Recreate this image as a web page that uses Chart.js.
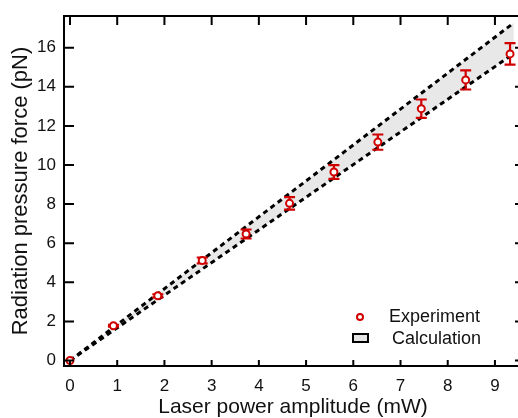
<!DOCTYPE html>
<html>
<head>
<meta charset="utf-8">
<script src="https://cdn.jsdelivr.net/npm/chart.js@4.4.1/dist/chart.umd.min.js"></script>
<style>
    html, body { margin: 0; padding: 0; background: #fff; overflow: hidden; }
    #forceChart { display: block; }
</style>
</head>
<body>
<canvas id="forceChart" width="528" height="418"></canvas>
<script>
// Measured points (laser power in mW, force in pN, error half-width in pN)
const expPower = [0, 0.92, 1.86, 2.80, 3.73, 4.65, 5.59, 6.52, 7.44, 8.38, 9.32];
const expForce = [0, 1.78, 3.31, 5.12, 6.47, 8.04, 9.64, 11.17, 12.88, 14.35, 15.68];
const expError = [0, 0.05, 0.08, 0.15, 0.23, 0.32, 0.35, 0.39, 0.47, 0.49, 0.55];

// Calculated band (upper and lower bound)
const calcPower = [0, 9.4];
const calcUpper = [0, 17.27];
const calcLower = [0, 15.70];

const xTicks = [0, 1, 2, 3, 4, 5, 6, 7, 8, 9];
const yTicks = [0, 2, 4, 6, 8, 10, 12, 14, 16];

const RED = '#d10000';
const FONT = "'Liberation Sans', Arial, sans-serif";

const toPoints = (xs, ys) => xs.map((x, i) => ({ x: x, y: ys[i] }));

// Error bars, drawn just before the experiment markers
const errorBars = {
    id: 'errorBars',
    beforeDatasetDraw(chart, args) {
        if (args.index !== 0) return;
        const { ctx, scales: { x, y } } = chart;
        ctx.save();
        ctx.strokeStyle = RED;
        ctx.lineWidth = 2.2;
        expPower.forEach((p, i) => {
            if (!expError[i]) return;
            const px = x.getPixelForValue(p);
            const top = y.getPixelForValue(expForce[i] + expError[i]);
            const bot = y.getPixelForValue(expForce[i] - expError[i]);
            ctx.beginPath();
            ctx.moveTo(px, top); ctx.lineTo(px, bot);
            ctx.moveTo(px - 5.5, top); ctx.lineTo(px + 5.5, top);
            ctx.moveTo(px - 5.5, bot); ctx.lineTo(px + 5.5, bot);
            ctx.stroke();
        });
        ctx.restore();
    }
};

// Box frame with inward ticks, plus the legend
const frame = {
    id: 'frame',
    afterDraw(chart) {
        const { ctx, chartArea: a, scales: { x, y } } = chart;
        ctx.save();
        ctx.strokeStyle = '#000';
        ctx.lineWidth = 2;
        ctx.beginPath();
        ctx.moveTo(a.left, a.top); ctx.lineTo(a.left, a.bottom);
        ctx.moveTo(a.left - 1, a.top); ctx.lineTo(a.right, a.top);
        ctx.moveTo(a.left - 1, a.bottom); ctx.lineTo(a.right, a.bottom);
        ctx.moveTo(a.right, a.top); ctx.lineTo(a.right, a.bottom);
        xTicks.forEach(v => {
            const px = x.getPixelForValue(v);
            ctx.moveTo(px, a.bottom); ctx.lineTo(px, a.bottom - 6);
            ctx.moveTo(px, a.top); ctx.lineTo(px, a.top + 9);
        });
        yTicks.forEach(v => {
            const py = y.getPixelForValue(v);
            ctx.moveTo(a.left, py); ctx.lineTo(a.left + 10, py);
            ctx.moveTo(a.right, py); ctx.lineTo(a.right - 7, py);
        });
        ctx.stroke();

        // legend
        const lx = a.right - 162;
        const ly = a.bottom - 49;
        ctx.beginPath();
        ctx.arc(lx, ly, 3, 0, Math.PI * 2);
        ctx.fillStyle = '#fff';
        ctx.fill();
        ctx.strokeStyle = RED;
        ctx.lineWidth = 2;
        ctx.stroke();

        ctx.fillStyle = '#e4e4e4';
        ctx.fillRect(lx - 7, ly + 17, 15, 8);
        ctx.strokeStyle = '#000';
        ctx.lineWidth = 2;
        ctx.strokeRect(lx - 7, ly + 17, 15, 8);

        ctx.fillStyle = '#111';
        ctx.font = '18px ' + FONT;
        ctx.textBaseline = 'middle';
        ctx.textAlign = 'left';
        ctx.fillText('Experiment', lx + 29, ly);
        ctx.fillText('Calculation', lx + 32, ly + 22);
        ctx.restore();
    }
};

const ctx = document.getElementById('forceChart');
new Chart(ctx, {
    type: 'scatter',
    data: {
        datasets: [{
            label: 'Experiment',
            data: toPoints(expPower, expForce),
            pointRadius: 3.5,
            pointBorderWidth: 2,
            borderColor: RED,
            pointBackgroundColor: '#fff',
            showLine: false
        }, {
            label: 'Calculation upper',
            data: toPoints(calcPower, calcUpper),
            showLine: true,
            borderColor: '#000',
            borderWidth: 3,
            borderDash: [5, 4],
            pointRadius: 0,
            fill: '+1',
            backgroundColor: '#e8e8e8'
        }, {
            label: 'Calculation lower',
            data: toPoints(calcPower, calcLower),
            showLine: true,
            borderColor: '#000',
            borderWidth: 3,
            borderDash: [5, 4],
            pointRadius: 0,
            fill: false
        }]
    },
    options: {
        responsive: false,
        animation: false,
        layout: { padding: { top: 16, left: 0, right: 0, bottom: 0 } },
        plugins: {
            legend: { display: false },
            tooltip: { enabled: false },
            filler: { drawTime: 'beforeDatasetsDraw' }
        },
        scales: {
            x: {
                type: 'linear',
                min: -0.127,
                max: 9.573,
                afterFit: (scale) => {
                    scale.height = 52;
                    scale.paddingLeft = 0;
                    scale.paddingRight = 0;
                },
                grid: { display: false, drawTicks: false },
                border: { display: false },
                ticks: {
                    stepSize: 1,
                    includeBounds: false,
                    padding: 10,
                    color: '#111',
                    font: { family: FONT, size: 17 }
                },
                title: {
                    display: true,
                    text: 'Laser power amplitude (mW)',
                    color: '#111',
                    padding: { top: 0, bottom: 0 },
                    font: { family: FONT, size: 21, lineHeight: 1 }
                }
            },
            y: {
                type: 'linear',
                min: -0.28,
                max: 17.62,
                afterFit: (scale) => {
                    scale.width = 64;
                    scale.paddingTop = 0;
                    scale.paddingBottom = 0;
                },
                grid: { display: false, drawTicks: false },
                border: { display: false },
                ticks: {
                    stepSize: 2,
                    includeBounds: false,
                    padding: 8,
                    color: '#111',
                    font: { family: FONT, size: 17 }
                },
                title: {
                    display: true,
                    text: 'Radiation pressure force (pN)',
                    color: '#111',
                    padding: { top: 10, bottom: 0 },
                    font: { family: FONT, size: 22, lineHeight: 1 }
                }
            }
        }
    },
    plugins: [errorBars, frame]
});
</script>
</body>
</html>
